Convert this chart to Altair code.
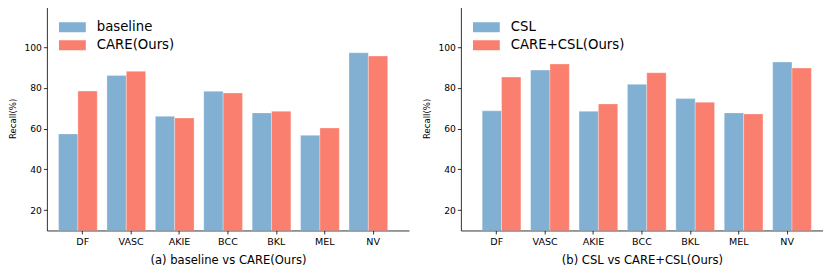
import altair as alt
import pandas as pd

categories = ["DF", "VASC", "AKIE", "BCC", "BKL", "MEL", "NV"]

names_a = ["baseline", "CARE(Ours)"]
baseline = [57.4, 86.1, 66.0, 78.3, 67.7, 56.7, 97.2]
care = [78.4, 88.1, 65.2, 77.5, 68.5, 60.3, 95.6]
caption_a = "(a) baseline vs CARE(Ours)"

names_b = ["CSL", "CARE+CSL(Ours)"]
csl = [68.7, 88.7, 68.5, 81.7, 74.7, 67.7, 92.7]
care_csl = [85.3, 91.7, 72.1, 87.4, 72.9, 67.2, 89.7]
caption_b = "(b) CSL vs CARE+CSL(Ours)"

y_ticks = [20, 40, 60, 80, 100]

BLUE = "#82B0D2"
RED = "#FA7F6F"
FONT = "DejaVu Sans"
RECT = "M-1,-0.37L1,-0.37L1,0.37L-1,0.37Z"


def panel(names, v1, v2, caption):
    df = pd.DataFrame({
        "category": categories * 2,
        "method": [names[0]] * len(categories) + [names[1]] * len(categories),
        "recall": v1 + v2,
    })
    return alt.Chart(df).mark_bar(
        clip=True, stroke="white", strokeWidth=0.6, strokeOpacity=0.5,
        width=19.4,
    ).encode(
        x=alt.X(
            "category:N", sort=categories,
            scale=alt.Scale(paddingInner=0.2, paddingOuter=0.34),
            axis=alt.Axis(title=caption, labelAngle=0, labelFontSize=9.6,
                          labelPadding=3, titleFontSize=11.6, titlePadding=8,
                          titleFontWeight="normal"),
        ),
        xOffset=alt.XOffset("method:N", sort=names,
                            scale=alt.Scale(paddingInner=0, paddingOuter=0)),
        y=alt.Y(
            "recall:Q",
            scale=alt.Scale(domain=[10, 120], nice=False, zero=False),
            axis=alt.Axis(values=y_ticks, title="Recall(%)", grid=False,
                          labelFontSize=9.2, labelPadding=2, titleFontSize=8.6,
                          titlePadding=6, titleFontWeight="normal"),
        ),
        color=alt.Color(
            "method:N", sort=names,
            scale=alt.Scale(domain=names, range=[BLUE, RED]),
            legend=alt.Legend(
                title=None, orient="none", legendX=12, legendY=14.5,
                symbolType=RECT, symbolSize=729, symbolStrokeWidth=0,
                symbolOpacity=1, labelFontSize=13.3, labelOffset=11,
                rowPadding=4.1, clipHeight=13, padding=0, labelFont=FONT,
            ),
        ),
    ).properties(width=363, height=224.7)


chart = alt.hconcat(
    panel(names_a, baseline, care, caption_a),
    panel(names_b, csl, care_csl, caption_b),
    spacing=13,
).resolve_scale(color="independent").resolve_legend(color="independent").properties(
    padding={"left": 0, "top": -2, "right": 0, "bottom": 0}
).configure_view(stroke=None).configure_axis(
    domainColor="black", tickColor="black", labelColor="black",
    titleColor="black", domainWidth=0.8, tickWidth=0.8, tickSize=3.5,
    labelFont=FONT, titleFont=FONT,
).configure_legend(labelColor="black")

chart.save("out.html", embed_options={"renderer": "svg", "actions": False})
